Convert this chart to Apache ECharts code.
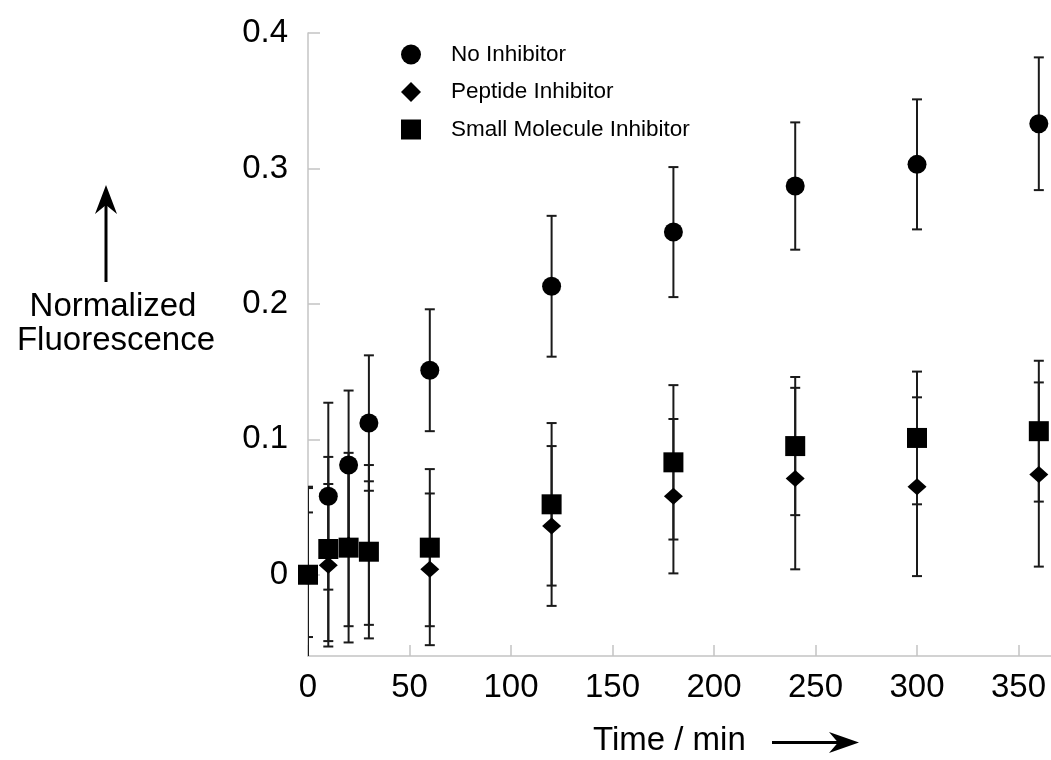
<!DOCTYPE html>
<html>
<head>
<meta charset="utf-8">
<script src="https://cdn.jsdelivr.net/npm/echarts@6/dist/echarts.min.js"></script>
<style>
html,body{margin:0;padding:0;background:#fff;}
#chart{width:1051px;height:760px;}
</style>
</head>
<body>
<div id="chart"></div>
<script>
// ---- data ----
const times = [0, 10, 20, 30, 60, 120, 180, 240, 300, 360];
const noInhibitor = [0, 0.058, 0.081, 0.112, 0.151, 0.213, 0.253, 0.287, 0.303, 0.333];
const noInhibitorErr = [0.064, 0.069, 0.055, 0.050, 0.045, 0.052, 0.048, 0.047, 0.048, 0.049];
const peptide = [0, 0.007, 0.022, 0.016, 0.004, 0.036, 0.058, 0.071, 0.065, 0.074];
const peptideErr = [0.065, 0.060, 0.060, 0.053, 0.056, 0.059, 0.057, 0.067, 0.066, 0.068];
const smallMol = [0, 0.019, 0.020, 0.017, 0.020, 0.052, 0.083, 0.095, 0.101, 0.106];
const smallMolErr = [0.046, 0.068, 0.070, 0.064, 0.058, 0.060, 0.057, 0.051, 0.049, 0.052];
const seriesNames = ['No Inhibitor', 'Peptide Inhibitor', 'Small Molecule Inhibitor'];
const xTicks = [0, 50, 100, 150, 200, 250, 300, 350];
const yTicks = [0, 0.1, 0.2, 0.3, 0.4];

const FONT = '"Liberation Sans", Arial, sans-serif';
const AXIS_GRAY = '#c4c4c4';

function pts(vals) { return times.map((t, i) => [t, vals[i]]); }
function errData(vals, errs) { return times.map((t, i) => [t, vals[i], errs[i]]); }

function errorSeries(vals, errs) {
  return {
    type: 'custom',
    silent: true,
    clip: true,
    z: 1,
    data: errData(vals, errs),
    encode: { x: 0, y: 1 },
    renderItem: function (params, api) {
      const x = api.value(0), y = api.value(1), e = api.value(2);
      const top = api.coord([x, y + e]);
      const bot = api.coord([x, y - e]);
      const hw = 5;
      const st = { stroke: '#1a1a1a', lineWidth: 2 };
      return {
        type: 'group',
        children: [
          { type: 'line', shape: { x1: top[0], y1: top[1], x2: bot[0], y2: bot[1] }, style: st },
          { type: 'line', shape: { x1: top[0] - hw, y1: top[1], x2: top[0] + hw, y2: top[1] }, style: st },
          { type: 'line', shape: { x1: bot[0] - hw, y1: bot[1], x2: bot[0] + hw, y2: bot[1] }, style: st }
        ]
      };
    }
  };
}

const chart = echarts.init(document.getElementById('chart'), null, { renderer: 'canvas' });

const option = {
  backgroundColor: '#fff',
  animation: false,
  textStyle: { fontFamily: FONT },
  grid: { left: 308, right: 0, top: 33, bottom: 104, containLabel: false },
  legend: {
    orient: 'vertical',
    left: 396,
    top: 38,
    itemWidth: 20,
    itemHeight: 20,
    itemGap: 14.5,
    data: [
      { name: seriesNames[0], icon: 'circle' },
      { name: seriesNames[1], icon: 'diamond' },
      { name: seriesNames[2], icon: 'rect' }
    ],
    textStyle: { fontSize: 22.5, color: '#000', fontFamily: FONT, padding: [0, 0, 0, 25] }
  },
  xAxis: {
    type: 'value',
    min: 0,
    max: 366,
    interval: 50,
    axisLine: { show: true, onZero: false, lineStyle: { color: AXIS_GRAY, width: 1.5 } },
    axisTick: { show: true, inside: true, length: 11, customValues: xTicks, lineStyle: { color: AXIS_GRAY, width: 1.5 } },
    axisLabel: { customValues: xTicks, fontSize: 33, color: '#000', margin: 15, fontFamily: FONT },
    splitLine: { show: false }
  },
  yAxis: {
    type: 'value',
    min: -0.06,
    max: 0.4,
    axisLine: { show: true, onZero: false, lineStyle: { color: AXIS_GRAY, width: 1.5 } },
    axisTick: { show: true, inside: true, length: 12, customValues: yTicks, lineStyle: { color: AXIS_GRAY, width: 1.5 } },
    axisLabel: {
      customValues: yTicks,
      fontSize: 33, color: '#000', margin: 20, fontFamily: FONT,
      formatter: function (v) { return v === 0 ? '0' : v.toFixed(1); }
    },
    splitLine: { show: false }
  },
  series: [
    errorSeries(noInhibitor, noInhibitorErr),
    errorSeries(peptide, peptideErr),
    errorSeries(smallMol, smallMolErr),
    { name: seriesNames[0], type: 'scatter', z: 3, symbol: 'circle', symbolSize: 19, itemStyle: { color: '#000', opacity: 1 }, data: pts(noInhibitor) },
    { name: seriesNames[1], type: 'scatter', z: 3, symbol: 'diamond', symbolSize: [19, 17], itemStyle: { color: '#000', opacity: 1 }, data: pts(peptide) },
    { name: seriesNames[2], type: 'scatter', z: 3, symbol: 'rect', symbolSize: 20, itemStyle: { color: '#000', opacity: 1 }, data: pts(smallMol) }
  ],
  graphic: [
    // y-axis title with upward arrow
    { type: 'line', shape: { x1: 106, y1: 282, x2: 106, y2: 200 }, style: { stroke: '#000', lineWidth: 3 } },
    { type: 'polygon', shape: { points: [[106, 185], [117, 214], [106, 205], [95, 214]] }, style: { fill: '#000' } },
    { type: 'text', x: 113, y: 307, style: { text: 'Normalized', fontSize: 33, fontFamily: FONT, fill: '#000', align: 'center', verticalAlign: 'middle' } },
    { type: 'text', x: 116, y: 341, style: { text: 'Fluorescence', fontSize: 33, fontFamily: FONT, fill: '#000', align: 'center', verticalAlign: 'middle' } },
    // x-axis title with right arrow
    { type: 'text', x: 593, y: 741, style: { text: 'Time / min', fontSize: 33, fontFamily: FONT, fill: '#000', align: 'left', verticalAlign: 'middle' } },
    { type: 'line', shape: { x1: 772, y1: 742.5, x2: 845, y2: 742.5 }, style: { stroke: '#000', lineWidth: 3 } },
    { type: 'polygon', shape: { points: [[859, 742.5], [829, 753], [838, 742.5], [829, 732]] }, style: { fill: '#000' } }
  ]
};

chart.setOption(option);
</script>
</body>
</html>
